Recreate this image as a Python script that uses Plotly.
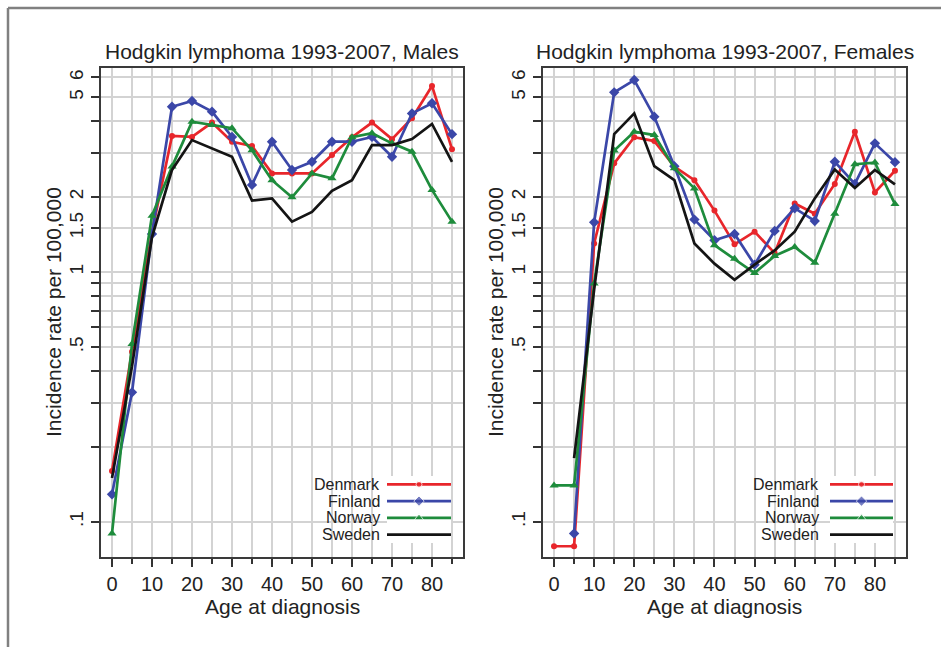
import plotly.graph_objects as go

ages = [0, 5, 10, 15, 20, 25, 30, 35, 40, 45, 50, 55, 60, 65, 70, 75, 80, 85]
countries = ["Denmark", "Finland", "Norway", "Sweden"]

males_denmark = [0.16, 0.48, 1.45, 3.50, 3.47, 3.96, 3.32, 3.19, 2.48, 2.48, 2.48, 2.94, 3.46, 3.96, 3.40, 4.12, 5.55, 3.10]
males_finland = [0.129, 0.33, 1.42, 4.58, 4.83, 4.38, 3.47, 2.23, 3.32, 2.56, 2.76, 3.32, 3.32, 3.47, 2.89, 4.31, 4.73, 3.56]
males_norway = [0.09, 0.515, 1.68, 2.64, 3.99, 3.87, 3.76, 3.07, 2.33, 1.99, 2.48, 2.37, 3.46, 3.59, 3.27, 3.03, 2.13, 1.59]
males_sweden = [0.15, 0.42, 1.38, 2.56, 3.37, 3.12, 2.89, 1.93, 1.97, 1.59, 1.74, 2.11, 2.33, 3.22, 3.22, 3.40, 3.91, 2.76]

females_denmark = [0.08, 0.08, 1.30, 2.72, 3.46, 3.34, 2.64, 2.33, 1.76, 1.29, 1.45, 1.19, 1.88, 1.71, 2.25, 3.64, 2.08, 2.54]
females_finland = [None, 0.09, 1.58, 5.23, 5.86, 4.18, 2.65, 1.62, 1.34, 1.42, 1.07, 1.46, 1.80, 1.60, 2.76, 2.25, 3.27, 2.75]
females_norway = [0.14, 0.14, 0.90, 3.06, 3.64, 3.53, 2.60, 2.16, 1.28, 1.13, 0.99, 1.16, 1.26, 1.09, 1.71, 2.70, 2.74, 1.87]
females_sweden = [None, 0.18, 0.85, 3.56, 4.31, 2.65, 2.33, 1.30, 1.08, 0.93, 1.07, 1.22, 1.45, 1.97, 2.57, 2.17, 2.56, 2.24]

panel_titles = ["Hodgkin lymphoma 1993-2007, Males", "Hodgkin lymphoma 1993-2007, Females"]
x_title = "Age at diagnosis"
y_title = "Incidence rate per 100,000"

x_major = [0, 10, 20, 30, 40, 50, 60, 70, 80]
x_minor = [5, 15, 25, 35, 45, 55, 65, 75, 85]
y_ticks = [0.1, 0.2, 0.3, 0.4, 0.5, 0.6, 0.7, 0.8, 0.9, 1, 1.5, 2, 3, 4, 5, 6]
y_labels = [".1", "", "", "", ".5", "", "", "", "", "1", "1.5", "2", "", "", "5", "6"]

colors = {"Denmark": "#e8262b", "Finland": "#3b47a8", "Norway": "#1e8c3c", "Sweden": "#141414"}
symbols = {"Denmark": "circle", "Finland": "diamond", "Norway": "triangle-up", "Sweden": None}
msize = {"Denmark": 6, "Finland": 8, "Norway": 8, "Sweden": 0}

W, H = 941, 647
FONT = "Liberation Sans, Arial, Helvetica, sans-serif"
TXT = "#222222"

def px_x(p):
    return p / W

def px_y(p):
    return 1 - p / H

panels = [
    (males_denmark, males_finland, males_norway, males_sweden),
    (females_denmark, females_finland, females_norway, females_sweden),
]
plot_left = [101, 543]
plot_right = [463, 906]
plot_top, plot_bottom = 68, 557

fig = go.Figure()

for i, series in enumerate(panels):
    xa = "x" if i == 0 else "x2"
    ya = "y" if i == 0 else "y2"
    for name, vals in zip(countries, series):
        sym = symbols[name]
        fig.add_trace(go.Scatter(
            x=ages, y=vals, name=name, xaxis=xa, yaxis=ya,
            mode="lines+markers" if sym else "lines",
            line=dict(color=colors[name], width=2.7),
            marker=dict(symbol=sym or "circle", size=msize[name], color=colors[name]),
            connectgaps=False, showlegend=False, hoverinfo="skip",
        ))

axis_common_x = dict(
    range=[-2.75, 87.75], tickmode="array", tickvals=x_major,
    ticks="outside", ticklen=8, tickwidth=1.5, tickcolor="#333",
    showline=True, mirror=True, linecolor="#3a3a3a", linewidth=2,
    showgrid=True, gridcolor="#d3d3d3", gridwidth=2, zeroline=False,
    tickfont=dict(family=FONT, size=20, color=TXT),
    minor=dict(tickvals=x_minor, ticks="outside", ticklen=5, tickwidth=1.5,
               tickcolor="#333", showgrid=True, gridcolor="#d3d3d3", gridwidth=2),
    fixedrange=True,
)
axis_common_y = dict(
    type="log", range=[-1.14, 0.816], tickmode="array",
    tickvals=y_ticks, ticktext=y_labels, tickangle=-90,
    ticks="outside", ticklen=8, tickwidth=1.5, tickcolor="#333",
    showline=True, mirror=True, linecolor="#3a3a3a", linewidth=2,
    showgrid=True, gridcolor="#d3d3d3", gridwidth=2, zeroline=False,
    tickfont=dict(family=FONT, size=19, color=TXT),
    fixedrange=True,
)

ydom = [px_y(plot_bottom), px_y(plot_top)]
fig.update_layout(
    xaxis=dict(domain=[px_x(plot_left[0]), px_x(plot_right[0])], anchor="y", **axis_common_x),
    yaxis=dict(domain=ydom, anchor="x", **axis_common_y),
    xaxis2=dict(domain=[px_x(plot_left[1]), px_x(plot_right[1])], anchor="y2", **axis_common_x),
    yaxis2=dict(domain=ydom, anchor="x2", **axis_common_y),
)

# legend sample axes
leg_top, leg_bot = 476, 543
leg_line_x = [(387, 451), (830, 893)]
leg_text_x = [382, 821]
for i in range(2):
    xn = 3 + i
    xk, yk = f"xaxis{xn}", f"yaxis{xn}"
    fig.update_layout(**{
        xk: dict(domain=[px_x(leg_line_x[i][0]), px_x(leg_line_x[i][1])], range=[0, 1],
                 visible=False, anchor=f"y{xn}", fixedrange=True),
        yk: dict(domain=[px_y(leg_bot), px_y(leg_top)], range=[4.5, 0.5],
                 visible=False, anchor=f"x{xn}", fixedrange=True),
    })
    for r, name in enumerate(countries, start=1):
        sym = symbols[name]
        fig.add_trace(go.Scatter(
            x=[0, 0.5, 1], y=[r, r, r], xaxis=f"x{xn}", yaxis=f"y{xn}",
            mode="lines+markers" if sym else "lines",
            line=dict(color=colors[name], width=2.7),
            marker=dict(symbol=sym or "circle", size=[0, msize[name], 0], color=colors[name]),
            showlegend=False, hoverinfo="skip",
        ))
        fig.add_annotation(text=name, xref="paper", x=px_x(leg_text_x[i]), xanchor="right",
                           yref=f"y{xn}", y=r, yanchor="middle", showarrow=False,
                           font=dict(family=FONT, size=16, color=TXT))
    # white legend box
    xs = "x" if i == 0 else "x2"
    ys = "y" if i == 0 else "y2"
    pl, pr = plot_left[i], plot_right[i]
    fig.add_shape(type="rect", xref=f"{xs} domain", yref=f"{ys} domain",
                  x0=(plot_left[i] + 207 - pl) / (pr - pl), x1=(pr - 2 - pl) / (pr - pl),
                  y0=(plot_bottom - 549) / (plot_bottom - plot_top),
                  y1=(plot_bottom - 467) / (plot_bottom - plot_top),
                  fillcolor="white", line=dict(width=0), layer="below")

# titles and axis titles
centers = [(plot_left[i] + plot_right[i]) / 2 for i in range(2)]
for i in range(2):
    fig.add_annotation(text=panel_titles[i], xref="paper", yref="paper",
                       x=px_x(centers[i]), y=px_y(52), xanchor="center", yanchor="middle",
                       showarrow=False, font=dict(family=FONT, size=21, color=TXT))
    fig.add_annotation(text=x_title, xref="paper", yref="paper",
                       x=px_x(centers[i]), y=px_y(606), xanchor="center", yanchor="middle",
                       showarrow=False, font=dict(family=FONT, size=21, color=TXT))
    fig.add_annotation(text=y_title, xref="paper", yref="paper", textangle=-90,
                       x=px_x(plot_left[i] - 47.5), y=px_y((plot_top + plot_bottom) / 2),
                       xanchor="center", yanchor="middle",
                       showarrow=False, font=dict(family=FONT, size=21, color=TXT))

# outer frame (top and left edges)
fig.add_shape(type="line", xref="paper", yref="paper", x0=px_x(8), x1=1.01, y0=px_y(8), y1=px_y(8),
              line=dict(color="#808080", width=2.5))
fig.add_shape(type="line", xref="paper", yref="paper", x0=px_x(8), x1=px_x(8), y0=px_y(8), y1=-0.01,
              line=dict(color="#808080", width=2.5))

fig.update_layout(
    width=W, height=H, margin=dict(l=0, r=0, t=0, b=0),
    paper_bgcolor="white", plot_bgcolor="white", showlegend=False,
    font=dict(family=FONT, color=TXT),
)

fig.write_html("out.html", config={"displayModeBar": False})
